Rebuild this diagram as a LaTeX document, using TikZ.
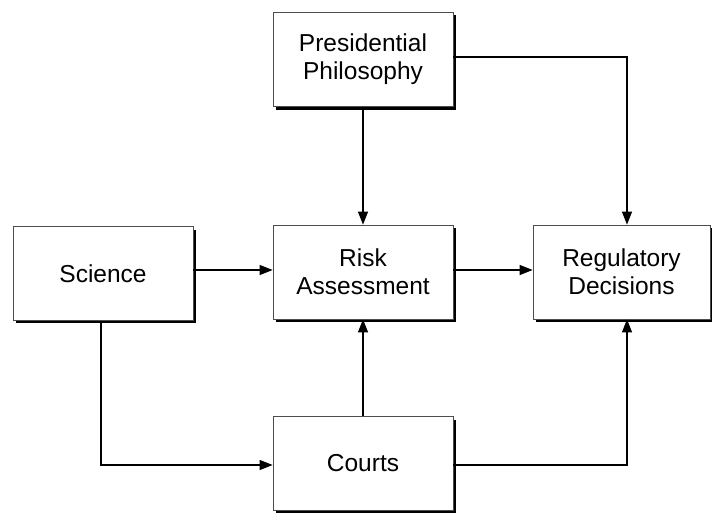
\documentclass[tikz,border=0pt]{standalone}
\usepackage{fontspec}
\setmainfont{Liberation Sans}
\usetikzlibrary{arrows.meta}
\begin{document}
\begin{tikzpicture}[x=1pt,y=-1pt,
  box/.style={draw=black!70,line width=0.8pt,fill=white,minimum width=180pt,minimum height=94pt,
    align=center,font=\fontsize{24.5}{28}\selectfont,inner sep=0pt},
  shadowline/.style={line width=2.8pt,black},
  arr/.style={line width=1.2pt,-{Triangle[length=13pt,width=10pt]}}]
\useasboundingbox (0,0) rectangle (712,512);
% shadows
\foreach \l/\t/\r/\b in {273/12/453/107, 13/227/193/320, 273/225/453/319, 533/225/710/319, 273/417/453/510}{
  \draw[shadowline] (\l+3,\b+1.5) -- (\r+1.5,\b+1.5) -- (\r+1.5,\t+3);
}
\node[box] (pp) at (363,59.5) {Presidential\\Philosophy};
\node[box] (sc) at (103,273.5) {Science};
\node[box] (ra) at (363,272) {Risk\\Assessment};
\node[box,minimum width=177pt] (rd) at (621.5,272) {Regulatory\\Decisions};
\node[box] (co) at (363,463.5) {Courts};
\coordinate (c1) at (627,57);
\coordinate (c2) at (101,465);
\coordinate (c3) at (627,465);
\draw[arr] (pp.south) -- (ra.north);
\draw[arr] (pp.east |- c1) -- (c1) -- (c1 |- rd.north);
\draw[arr] (sc.east |- 0,270) -- (ra.west |- 0,270);
\draw[arr] (ra.east |- 0,270) -- (rd.west |- 0,270);
\draw[arr] (c2 |- sc.south) -- (c2) -- (co.west |- c2);
\draw[arr] (co.north) -- (ra.south);
\draw[arr] (co.east |- c3) -- (c3) -- (c3 |- rd.south);
\end{tikzpicture}
\end{document}
